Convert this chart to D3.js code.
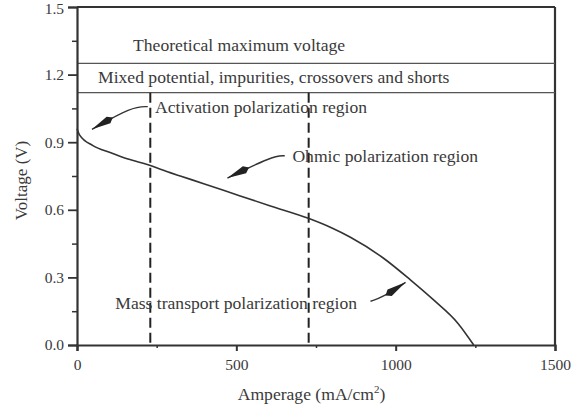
<!DOCTYPE html>
<html><head><meta charset="utf-8">
<script src="https://cdn.jsdelivr.net/npm/d3@7"></script>
<style>
html,body{margin:0;padding:0;background:#fff;}
svg{display:block;}
text{font-family:"Liberation Serif","Times New Roman",serif;fill:#3a3a3a;}
</style></head>
<body>
<svg id="chart" width="571" height="410"></svg>
<script>
// ---- data ----
const current = [0, 9, 50, 104, 160, 223, 292, 324, 400, 503, 607, 726, 800, 858, 962, 1047, 1119, 1195, 1245];
const voltage = [0.96, 0.93, 0.885, 0.854, 0.825, 0.80, 0.765, 0.75, 0.715, 0.666, 0.617, 0.562, 0.519, 0.478, 0.385, 0.288, 0.20, 0.097, 0.0];
const xTicks = [0, 500, 1000, 1500];
const xMinorTicks = [250, 750, 1250];
const yTicks = [0.0, 0.3, 0.6, 0.9, 1.2, 1.5];
const yMinorTicks = [0.15, 0.45, 0.75, 1.05, 1.35];
const bandLines = [1.25, 1.12];
const regionBounds = [230, 727];
const bandLabels = ["Theoretical maximum voltage", "Mixed potential, impurities, crossovers and shorts"];
const bandLabelX = [176, 66];
const bandLabelY = [1.33, 1.19];
const regionLabels = ["Activation polarization region", "Ohmic polarization region", "Mass transport polarization region"];
const regionLabelX = [245, 676, 120];
const regionLabelY = [1.055, 0.838, 0.188];
// leader paths (data coords): last point is the arrow tip
const leaders = [
  [[222, 1.058], [173, 1.058], [47, 0.957]],
  [[652, 0.840], [613, 0.838], [472, 0.741]],
  [[921, 0.194], [960, 0.212], [1031, 0.278]]
];

// ---- layout ----
const svg = d3.select("#chart");
const x = d3.scaleLinear().domain([0, 1500]).range([77, 555]);
const y = d3.scaleLinear().domain([0, 1.5]).range([345, 7]);
const ink = "#333";
const labelFont = 17.6;

// frame: top and right
svg.append("line").attr("x1", x(0)).attr("x2", x(1500)).attr("y1", y(1.5)).attr("y2", y(1.5))
  .attr("stroke", ink).attr("stroke-width", 2);
svg.append("line").attr("x1", x(1500)).attr("x2", x(1500)).attr("y1", y(1.5)).attr("y2", y(0))
  .attr("stroke", ink).attr("stroke-width", 2.2);

// band lines
svg.selectAll("line.band").data(bandLines).join("line").attr("class", "band")
  .attr("x1", x(0)).attr("x2", x(1500)).attr("y1", d => y(d)).attr("y2", d => y(d))
  .attr("stroke", "#555").attr("stroke-width", 1.2);

// dashed region boundaries
svg.selectAll("line.region").data(regionBounds).join("line").attr("class", "region")
  .attr("x1", d => x(d)).attr("x2", d => x(d)).attr("y1", y(bandLines[1])).attr("y2", y(0))
  .attr("stroke", "#222").attr("stroke-width", 2).attr("stroke-dasharray", "10,5");

// axes
const xAxis = d3.axisBottom(x).tickValues(xTicks).tickFormat(d3.format("d")).tickSize(6).tickPadding(8);
const gx = svg.append("g").attr("transform", `translate(0,${y(0)})`).call(xAxis);
gx.select(".domain").attr("stroke", ink).attr("stroke-width", 2.2);
gx.selectAll(".tick line").attr("stroke", ink).attr("stroke-width", 2);
gx.selectAll(".tick text").attr("font-size", 15.5).attr("fill", "#3a3a3a")
  .style("font-family", '"Liberation Serif",serif');
const gxm = svg.append("g").attr("transform", `translate(0,${y(0)})`)
  .call(d3.axisBottom(x).tickValues(xMinorTicks).tickSize(3).tickFormat(""));
gxm.select(".domain").remove();
gxm.selectAll(".tick line").attr("stroke", ink).attr("stroke-width", 1.5);

const yAxis = d3.axisLeft(y).tickValues(yTicks).tickFormat(d3.format(".1f")).tickSize(9).tickPadding(4);
const gy = svg.append("g").attr("transform", `translate(${x(0)},0)`).call(yAxis);
gy.select(".domain").attr("stroke", ink).attr("stroke-width", 2.2);
gy.selectAll(".tick line").attr("stroke", ink).attr("stroke-width", 1.8);
gy.selectAll(".tick text").attr("font-size", 15.5).attr("fill", "#3a3a3a")
  .style("font-family", '"Liberation Serif",serif');
gy.selectAll(".tick").filter(d => d === 1.5).select("text").attr("dy", "0.45em");
const gym = svg.append("g").attr("transform", `translate(${x(0)},0)`)
  .call(d3.axisLeft(y).tickValues(yMinorTicks).tickSize(5).tickFormat(""));
gym.select(".domain").remove();
gym.selectAll(".tick line").attr("stroke", ink).attr("stroke-width", 1.5);

// axis titles
svg.append("text").attr("x", x(736)).attr("y", 400).attr("text-anchor", "middle")
  .attr("font-size", labelFont).html('Amperage (mA/cm<tspan dy="-7" font-size="11">2</tspan><tspan dy="7">)</tspan>');
svg.append("text").attr("transform", `translate(27,${y(0.73)}) rotate(-90)`).attr("text-anchor", "middle")
  .attr("font-size", 17).text("Voltage (V)");

// polarization curve
const line = d3.line().x((d, i) => x(current[i])).y(d => y(d)).curve(d3.curveMonotoneX);
svg.append("path").datum(voltage).attr("d", line).attr("fill", "none")
  .attr("stroke", "#333").attr("stroke-width", 1.6);

// band labels
svg.selectAll("text.band").data(bandLabels).join("text").attr("class", "band")
  .attr("x", (d, i) => x(bandLabelX[i])).attr("y", (d, i) => y(bandLabelY[i]))
  .attr("dy", "0.35em").attr("text-anchor", "start").attr("font-size", labelFont).text(d => d);

// region labels
svg.selectAll("text.region").data(regionLabels).join("text").attr("class", "region")
  .attr("x", (d, i) => x(regionLabelX[i])).attr("y", (d, i) => y(regionLabelY[i]))
  .attr("dy", "0.35em").attr("text-anchor", "start").attr("font-size", labelFont).text(d => d);

// leaders with dart-shaped arrowheads
leaders.forEach(pts => {
  const p = pts.map(d => [x(d[0]), y(d[1])]);
  svg.append("path").attr("d", d3.line().curve(d3.curveBasis)(p))
    .attr("fill", "none").attr("stroke", "#333").attr("stroke-width", 1.4);
  const tip = p[p.length - 1], prev = p[p.length - 2];
  const dx = tip[0] - prev[0], dy = tip[1] - prev[1];
  const L = Math.hypot(dx, dy), ux = dx / L, uy = dy / L;
  const len = 19, w = 3.8;
  const bx = tip[0] - ux * len, by = tip[1] - uy * len;
  const back = [tip[0] - ux * (len + 5), tip[1] - uy * (len + 5)];
  const poly = [tip, [bx - uy * w, by + ux * w], back, [bx + uy * w, by - ux * w]];
  svg.append("path").attr("d", "M" + poly.map(q => q.join(",")).join("L") + "Z").attr("fill", "#222");
});
</script>
</body></html>
